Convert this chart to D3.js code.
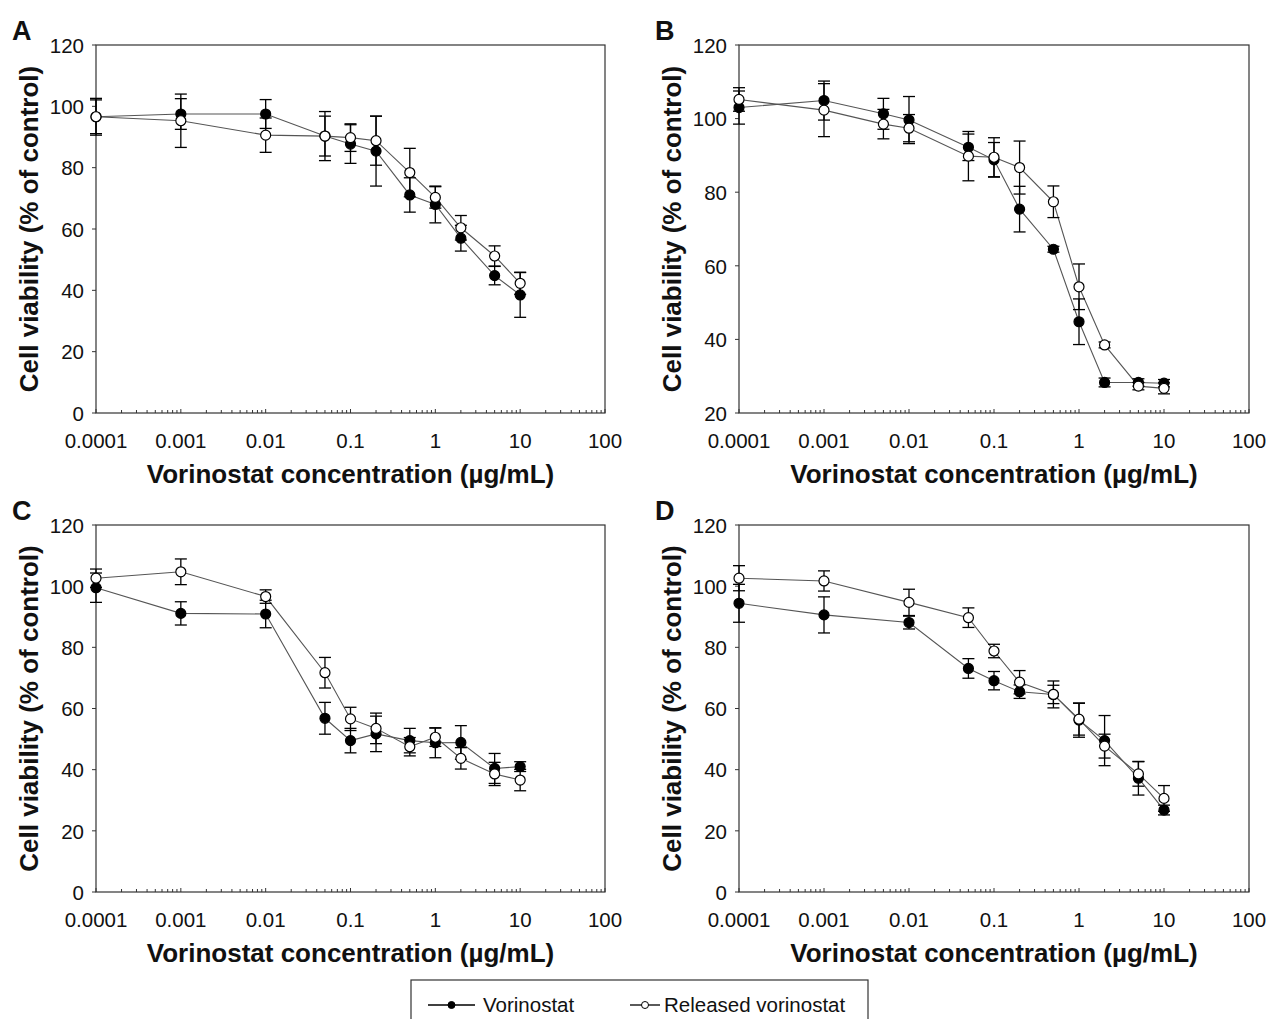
<!DOCTYPE html>
<html>
<head>
<meta charset="utf-8">
<script src="https://cdn.jsdelivr.net/npm/d3@7"></script>
<style>
  body { margin: 0; background: #fff; }
  svg { display: block; font-family: Arial, "Liberation Sans", sans-serif; }
</style>
</head>
<body>
<div id="chart"></div>
<script>
// ---------------- data ----------------
const concA = [0.0001, 0.001, 0.01, 0.05, 0.1, 0.2, 0.5, 1, 2, 5, 10];
const vorA = [96.6, 97.5, 97.5, 90.3, 87.7, 85.4, 71.1, 68, 57, 44.8, 38.5];
const vorErrA = [6, 5, 4.7, 6.5, 6.3, 11.4, 5.6, 6, 4.2, 3, 7.3];
const relA = [96.6, 95.3, 90.6, 90.3, 89.8, 88.8, 78.4, 70.3, 60.4, 51.2, 42.3];
const relErrA = [5.5, 8.7, 5.6, 8, 4.5, 8, 7.9, 3.5, 4, 3.3, 3.6];

const concB = [0.0001, 0.001, 0.005, 0.01, 0.05, 0.1, 0.2, 0.5, 1, 2, 5, 10];
const vorB = [103, 104.9, 101.3, 99.6, 92.2, 88.8, 75.4, 64.5, 44.8, 28.3, 28.3, 28.1];
const vorErrB = [4.5, 5.3, 4.2, 6.4, 3.6, 4.7, 6.2, 0.8, 6.2, 1.2, 1, 1];
const relB = [105.2, 102.3, 98.5, 97.4, 89.8, 89.5, 86.7, 77.4, 54.3, 38.5, 27.3, 26.7];
const relErrB = [3.2, 7.2, 4, 3.7, 6.7, 5.3, 7.2, 4.3, 6.2, 0.8, 1, 1.5];

const concC = [0.0001, 0.001, 0.01, 0.05, 0.1, 0.2, 0.5, 1, 2, 5, 10];
const vorC = [99.5, 91.1, 90.9, 56.8, 49.5, 51.7, 49.5, 48.8, 48.9, 40.4, 41];
const vorErrC = [4.8, 3.8, 4.5, 5.2, 4, 5.8, 4, 4.9, 5.5, 4.9, 1.6];
const relC = [102.6, 104.7, 96.6, 71.7, 56.6, 53.5, 47.5, 50.6, 43.7, 38.6, 36.6];
const relErrC = [3, 4.2, 2.2, 5, 3.8, 5, 3, 3, 3.5, 3.8, 3.5];

const concD = [0.0001, 0.001, 0.01, 0.05, 0.1, 0.2, 0.5, 1, 2, 5, 10];
const vorD = [94.4, 90.6, 88.1, 73.1, 69.1, 65.5, 64.6, 56.2, 49.5, 37.2, 26.8];
const vorErrD = [6.2, 5.9, 2.1, 3.2, 3, 2.2, 4.4, 5.6, 8.2, 5.5, 1.6];
const relD = [102.6, 101.7, 94.7, 89.7, 78.8, 68.6, 64.6, 56.5, 47.7, 38.6, 30.6];
const relErrD = [4.1, 3.3, 4.3, 3.2, 2.2, 3.8, 3, 5.2, 3.9, 4, 4.2];

const xTicks = [0.0001, 0.001, 0.01, 0.1, 1, 10, 100];
const xTickLabels = ["0.0001", "0.001", "0.01", "0.1", "1", "10", "100"];
const yTicksFrom0 = [0, 20, 40, 60, 80, 100, 120];
const yTicksFrom20 = [20, 40, 60, 80, 100, 120];
const panelLetters = ["A", "B", "C", "D"];
const seriesNames = ["Vorinostat", "Released vorinostat"];

// ---------------- layout ----------------
const W = 1267, H = 1019;
const svg = d3.select("#chart").append("svg").attr("width", W).attr("height", H);

const boxes = [
  { left: 96, right: 605, top: 45, bottom: 413 },
  { left: 739, right: 1249, top: 45, bottom: 413 },
  { left: 96, right: 605, top: 525, bottom: 892 },
  { left: 739, right: 1249, top: 525, bottom: 892 },
];

const panels = [
  { conc: concA, vor: vorA, vorErr: vorErrA, rel: relA, relErr: relErrA, yTicks: yTicksFrom0 },
  { conc: concB, vor: vorB, vorErr: vorErrB, rel: relB, relErr: relErrB, yTicks: yTicksFrom20 },
  { conc: concC, vor: vorC, vorErr: vorErrC, rel: relC, relErr: relErrC, yTicks: yTicksFrom0 },
  { conc: concD, vor: vorD, vorErr: vorErrD, rel: relD, relErr: relErrD, yTicks: yTicksFrom0 },
];

const axisColor = "#333";
const lineColor = "#555";
const r = 5;

// minor ticks 2..9 per decade
const minorTicks = [];
for (let e = -4; e < 2; e++) {
  for (let k = 2; k <= 9; k++) minorTicks.push(k * Math.pow(10, e));
}

panels.forEach((p, pi) => {
  const b = boxes[pi];
  const x = d3.scaleLog().domain([0.0001, 100]).range([b.left, b.right]);
  const y = d3.scaleLinear()
    .domain([p.yTicks[0], p.yTicks[p.yTicks.length - 1]])
    .range([b.bottom, b.top]);

  const g = svg.append("g");

  // frame
  g.append("rect")
    .attr("x", b.left).attr("y", b.top)
    .attr("width", b.right - b.left).attr("height", b.bottom - b.top)
    .attr("fill", "none").attr("stroke", axisColor).attr("stroke-width", 1.2);

  // y ticks (outward) + labels
  g.selectAll(".ytick").data(p.yTicks).enter().append("line")
    .attr("x1", b.left - 4).attr("x2", b.left)
    .attr("y1", d => y(d)).attr("y2", d => y(d))
    .attr("stroke", axisColor).attr("stroke-width", 1);
  g.selectAll(".ylab").data(p.yTicks).enter().append("text")
    .attr("x", b.left - 12).attr("y", d => y(d)).attr("dy", "0.38em")
    .attr("text-anchor", "end").attr("font-size", 20.5).attr("fill", "#111")
    .text(d => d);

  // x ticks (inward) + labels
  g.selectAll(".xmaj").data(xTicks).enter().append("line")
    .attr("x1", d => x(d)).attr("x2", d => x(d))
    .attr("y1", b.bottom).attr("y2", b.bottom - 4)
    .attr("stroke", axisColor).attr("stroke-width", 1);
  g.selectAll(".xmin").data(minorTicks).enter().append("line")
    .attr("x1", d => x(d)).attr("x2", d => x(d))
    .attr("y1", b.bottom).attr("y2", b.bottom - 3)
    .attr("stroke", axisColor).attr("stroke-width", 1);
  g.selectAll(".xlab").data(xTicks).enter().append("text")
    .attr("x", d => x(d)).attr("y", b.bottom + 35)
    .attr("text-anchor", "middle").attr("font-size", 20.5).attr("fill", "#111")
    .text((d, i) => xTickLabels[i]);

  // axis titles
  g.append("text")
    .attr("x", (b.left + b.right) / 2).attr("y", b.bottom + 70)
    .attr("text-anchor", "middle").attr("font-size", 26).attr("font-weight", "bold")
    .attr("fill", "#111")
    .text("Vorinostat concentration (µg/mL)");
  g.append("text")
    .attr("transform", `translate(${b.left - 67},${(b.top + b.bottom) / 2}) rotate(-90)`)
    .attr("text-anchor", "middle").attr("dy", "0.35em")
    .attr("font-size", 26).attr("font-weight", "bold").attr("fill", "#111")
    .text("Cell viability (% of control)");

  // panel letter
  g.append("text")
    .attr("x", b.left - 84).attr("y", b.top - 5)
    .attr("font-size", 27).attr("font-weight", "bold").attr("fill", "#111")
    .text(panelLetters[pi]);

  const series = [
    { vals: p.vor, errs: p.vorErr, fill: "#000" },
    { vals: p.rel, errs: p.relErr, fill: "#fff" },
  ];

  const line = d3.line().x(d => x(d[0])).y(d => y(d[1]));

  series.forEach(s => {
    const pts = p.conc.map((c, i) => [c, s.vals[i], s.errs[i]]);
    g.append("path").datum(pts)
      .attr("d", line).attr("fill", "none")
      .attr("stroke", lineColor).attr("stroke-width", 1.1);
  });

  // error bars
  series.forEach(s => {
    const pts = p.conc.map((c, i) => [c, s.vals[i], s.errs[i]]);
    const eb = g.append("g").attr("stroke", "#000").attr("stroke-width", 1.3);
    eb.selectAll(".v").data(pts).enter().append("line")
      .attr("x1", d => x(d[0])).attr("x2", d => x(d[0]))
      .attr("y1", d => y(d[1] - d[2])).attr("y2", d => y(d[1] + d[2]));
    eb.selectAll(".t").data(pts).enter().append("line")
      .attr("x1", d => x(d[0]) - 6).attr("x2", d => x(d[0]) + 6)
      .attr("y1", d => y(d[1] + d[2])).attr("y2", d => y(d[1] + d[2]));
    eb.selectAll(".b").data(pts).enter().append("line")
      .attr("x1", d => x(d[0]) - 6).attr("x2", d => x(d[0]) + 6)
      .attr("y1", d => y(d[1] - d[2])).attr("y2", d => y(d[1] - d[2]));
  });

  // markers
  series.forEach(s => {
    const pts = p.conc.map((c, i) => [c, s.vals[i]]);
    g.selectAll(null).data(pts).enter().append("circle")
      .attr("cx", d => x(d[0])).attr("cy", d => y(d[1])).attr("r", r)
      .attr("fill", s.fill).attr("stroke", "#000").attr("stroke-width", 1.2);
  });
});

// ---------------- legend ----------------
const leg = svg.append("g");
leg.append("rect")
  .attr("x", 411).attr("y", 980).attr("width", 457).attr("height", 60)
  .attr("fill", "#fff").attr("stroke", axisColor).attr("stroke-width", 1.2);

const legItems = [
  { name: seriesNames[0], x1: 428, x2: 475, fill: "#000", tx: 483 },
  { name: seriesNames[1], x1: 630, x2: 660, fill: "#fff", tx: 664 },
];
legItems.forEach(it => {
  leg.append("line")
    .attr("x1", it.x1).attr("x2", it.x2).attr("y1", 1005).attr("y2", 1005)
    .attr("stroke", "#000").attr("stroke-width", 1.3);
  leg.append("circle")
    .attr("cx", (it.x1 + it.x2) / 2).attr("cy", 1005).attr("r", 3.5)
    .attr("fill", it.fill).attr("stroke", "#000").attr("stroke-width", 1);
  leg.append("text")
    .attr("x", it.tx).attr("y", 1012)
    .attr("font-size", 20.5).attr("fill", "#111")
    .text(it.name);
});
</script>
</body>
</html>
